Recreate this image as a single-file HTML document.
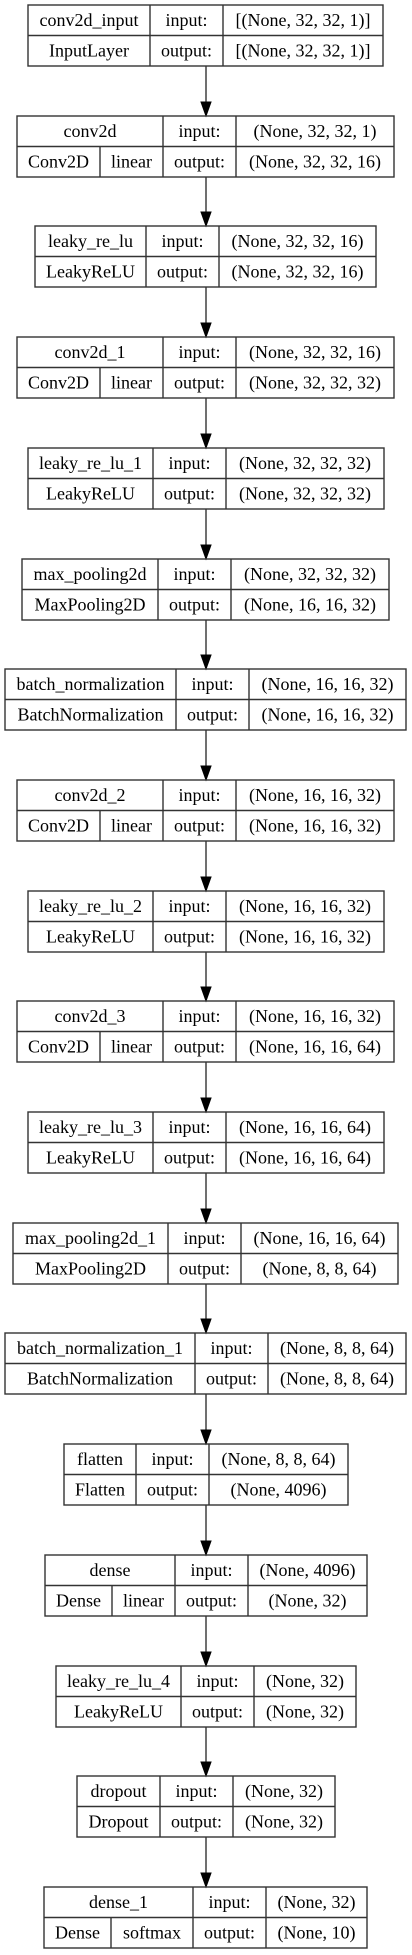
<!DOCTYPE html>
<html><head><meta charset="utf-8">
<style>
html,body{margin:0;padding:0;background:#fff;}
svg{display:block;}
text{font-family:"Liberation Serif",serif;font-size:18px;fill:#000;}
</style></head>
<body>
<svg id="chart" width="412" height="1955" viewBox="0 0 412 1955" xmlns="http://www.w3.org/2000/svg"></svg>
<script>
const layerNames=["conv2d_input","conv2d","leaky_re_lu","conv2d_1","leaky_re_lu_1","max_pooling2d","batch_normalization","conv2d_2","leaky_re_lu_2","conv2d_3","leaky_re_lu_3","max_pooling2d_1","batch_normalization_1","flatten","dense","leaky_re_lu_4","dropout","dense_1"];
const layerTypes=["InputLayer","Conv2D","LeakyReLU","Conv2D","LeakyReLU","MaxPooling2D","BatchNormalization","Conv2D","LeakyReLU","Conv2D","LeakyReLU","MaxPooling2D","BatchNormalization","Flatten","Dense","LeakyReLU","Dropout","Dense"];
const activations=["","linear","","linear","","","","linear","","linear","","","","","linear","","","softmax"];
const inputShapes=["[(None, 32, 32, 1)]","(None, 32, 32, 1)","(None, 32, 32, 16)","(None, 32, 32, 16)","(None, 32, 32, 32)","(None, 32, 32, 32)","(None, 16, 16, 32)","(None, 16, 16, 32)","(None, 16, 16, 32)","(None, 16, 16, 32)","(None, 16, 16, 64)","(None, 16, 16, 64)","(None, 8, 8, 64)","(None, 8, 8, 64)","(None, 4096)","(None, 32)","(None, 32)","(None, 32)"];
const outputShapes=["[(None, 32, 32, 1)]","(None, 32, 32, 16)","(None, 32, 32, 16)","(None, 32, 32, 32)","(None, 32, 32, 32)","(None, 16, 16, 32)","(None, 16, 16, 32)","(None, 16, 16, 32)","(None, 16, 16, 32)","(None, 16, 16, 64)","(None, 16, 16, 64)","(None, 8, 8, 64)","(None, 8, 8, 64)","(None, 4096)","(None, 32)","(None, 32)","(None, 32)","(None, 10)"];
// layout: [left, actSplit, nameSplit, labelSplit, right]
const boxLayout=[[28,0,150,223,383],[17,100,163,236,394],[35,0,146,219,376],[17,100,163,236,394],[28,0,153,226,384],[22,0,158,231,389],[5,0,176,249,406],[17,100,163,236,394],[28,0,153,226,384],[17,100,163,236,394],[28,0,153,226,384],[13,0,168,241,398],[5,0,195,268,406],[64,0,136,209,348],[45,112,175,248,367],[56,0,181,254,356],[77,0,160,233,335],[44,111,193,266,367]];
const svg=document.getElementById('chart');
const NS="http://www.w3.org/2000/svg";
const top0=5,period=110.7,boxH=61,cx=206;
function mk(tag,attrs,parent){const e=document.createElementNS(NS,tag);for(const k in attrs)e.setAttribute(k,attrs[k]);parent.appendChild(e);return e;}
function txt(x,y,s,parent,maxW){const t=mk('text',{x:x,y:y,'text-anchor':'middle'},parent);t.textContent=s;
  if(maxW){const w=t.getComputedTextLength();if(w>maxW){t.setAttribute('textLength',maxW);t.setAttribute('lengthAdjust','spacingAndGlyphs');}}return t;}
layerNames.forEach((nm,i)=>{
  const [l,a,n,s,r]=boxLayout[i];
  const y=Math.round(top0+i*period), m=y+boxH/2, b=y+boxH;
  const g=mk('g',{},svg);
  
  
  const st={fill:'none',stroke:'#333','stroke-width':1.4};
  mk('rect',Object.assign({x:l,y:y,width:r-l,height:boxH},st),g);
  mk('line',Object.assign({x1:l,y1:m,x2:r,y2:m},st),g);
  mk('line',Object.assign({x1:n,y1:y,x2:n,y2:b},st),g);
  mk('line',Object.assign({x1:s,y1:y,x2:s,y2:b},st),g);
  if(a) mk('line',Object.assign({x1:a,y1:m,x2:a,y2:b},st),g);
  const by=21;
  txt((l+n)/2,y+by,nm,g,n-l-10);
  if(a){txt((l+a)/2,m+by,layerTypes[i],g,a-l-10);txt((a+n)/2,m+by,activations[i],g,n-a-10);}
  else txt((l+n)/2,m+by,layerTypes[i],g,n-l-10);
  txt((n+s)/2,y+by,'input:',g,s-n-10);
  txt((n+s)/2,m+by,'output:',g,s-n-10);
  txt((s+r)/2,y+by,inputShapes[i],g,r-s-10);
  txt((s+r)/2,m+by,outputShapes[i],g,r-s-10);
  if(i<layerNames.length-1){
    const ny=Math.round(top0+(i+1)*period);
    const ag=mk('g',{},svg);
    
    
    mk('line',{x1:cx,y1:b,x2:cx,y2:ny-13,stroke:'#333','stroke-width':1.4},ag);
    mk('polygon',{points:`${cx-5},${ny-14} ${cx+5},${ny-14} ${cx},${ny}`,fill:'#000',stroke:'#000','stroke-width':1},ag);
  }
});
</script>
</body></html>
